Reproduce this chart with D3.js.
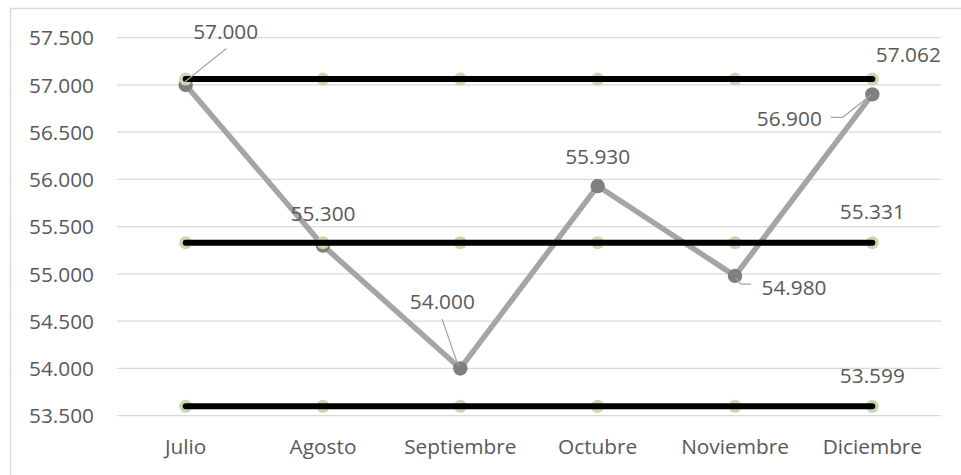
<!DOCTYPE html>
<html>
<head>
<meta charset="utf-8">
<script src="https://cdn.jsdelivr.net/npm/d3@7"></script>
<style>
  body { margin: 0; background: #fff; }
  text { font-family: "Open Sans", "Noto Sans", sans-serif; fill: #595959; }
</style>
</head>
<body>
<div id="chart"></div>
<script>
// datos
var meses = ["Julio", "Agosto", "Septiembre", "Octubre", "Noviembre", "Diciembre"];
var valores = [57.000, 55.300, 54.000, 55.930, 54.980, 56.900];
var lsc = [57.062, 57.062, 57.062, 57.062, 57.062, 57.062];
var media = [55.331, 55.331, 55.331, 55.331, 55.331, 55.331];
var lic = [53.599, 53.599, 53.599, 53.599, 53.599, 53.599];
var yTicks = [53.5, 54, 54.5, 55, 55.5, 56, 56.5, 57, 57.5];

// desplazamiento de las etiquetas (px)
var labelOffset = [[40, -53], [0, -32], [-18, -67], [0, -29], [59, 12], [-83, 24]];
var leaders = [
    [[40.7, -36.4], [-1, -3]],
    null,
    [[-18.3, -49.5], [-2, -2.5]],
    null,
    [[1, 2], [6, 8.2], [16, 8.2]],
    [[-41.3, 22.9], [-29.7, 22.9], [-1.3, 0.6]]
];

var width = 961;
var height = 475;
var padding = {top: 37.7, right: 20, left: 117, bottom: 59.3};
var fontSize = "20.8px";

var fmt = function (d) { return d3.format(".3f")(d); };

var svg = d3.select("#chart").append("svg").attr("width", width).attr("height", height);

// borde
svg.append("rect")
    .attr("x", 10.5).attr("y", 8.5)
    .attr("width", width).attr("height", height)
    .attr("fill", "none").attr("stroke", "#d9d9d9").attr("stroke-width", 1.5);

var x = d3.scaleBand().domain(meses).range([padding.left, 941]);
var y = d3.scaleLinear().domain([53.5, 57.5]).range([height - padding.bottom, padding.top]);
var cx = function (d, i) { return x(meses[i]) + x.bandwidth() / 2; };

// rejilla
svg.append("g").selectAll("line")
    .data(yTicks).enter().append("line")
    .attr("x1", padding.left).attr("x2", 941)
    .attr("y1", function (d) { return y(d); }).attr("y2", function (d) { return y(d); })
    .attr("stroke", "#d9d9d9").attr("stroke-width", 1.2);

// eje y
var yAxis = svg.append("g")
    .attr("transform", "translate(" + (padding.left - 23) + ",0)")
    .call(d3.axisLeft(y).tickValues(yTicks).tickSize(0).tickPadding(0).tickFormat(fmt));
yAxis.select(".domain").remove();
yAxis.selectAll("text").attr("font-size", fontSize).attr("dy", "0.35em")
    .style("font-family", "'Open Sans', sans-serif").attr("fill", "#595959");

// eje x
var xAxis = svg.append("g")
    .attr("transform", "translate(0," + (height - padding.bottom) + ")")
    .call(d3.axisBottom(x).tickSize(0).tickPadding(31));
xAxis.select(".domain").remove();
xAxis.selectAll("text").attr("font-size", fontSize).attr("dy", "0.35em")
    .style("font-family", "'Open Sans', sans-serif").attr("fill", "#595959");

var line = d3.line().x(cx).y(function (d) { return y(d); });

// serie de datos
svg.append("path").datum(valores)
    .attr("d", line).attr("fill", "none")
    .attr("stroke", "#a5a5a5").attr("stroke-width", 5.5)
    .attr("stroke-linejoin", "round");
svg.append("g").selectAll("circle")
    .data(valores).enter().append("circle")
    .attr("cx", cx).attr("cy", function (d) { return y(d); })
    .attr("r", 7.2).attr("fill", "#7f7f7f");

// limites
[lsc, media, lic].forEach(function (serie) {
    svg.append("g").selectAll("circle")
        .data(serie).enter().append("circle")
        .attr("cx", cx).attr("cy", function (d) { return y(d); })
        .attr("r", 6.5).attr("fill", "#c8daad");
    svg.append("path").datum(serie)
        .attr("d", line).attr("fill", "none")
        .attr("stroke", "#000").attr("stroke-width", 6)
        .attr("stroke-linecap", "round");
    var last = serie.length - 1;
    var off = serie === lsc ? [36, -24] : [0, -31];
    svg.append("text")
        .attr("x", cx(serie[last], last) + off[0])
        .attr("y", y(serie[last]) + off[1])
        .attr("dy", "0.35em").attr("text-anchor", "middle")
        .attr("font-size", fontSize)
        .text(fmt(serie[last]));
});

// lineas guia
leaders.forEach(function (pts, i) {
    if (!pts) return;
    var px = cx(valores[i], i), py = y(valores[i]);
    svg.append("polyline")
        .attr("points", pts.map(function (p) { return (px + p[0]) + "," + (py + p[1]); }).join(" "))
        .attr("fill", "none").attr("stroke", "#a6a6a6").attr("stroke-width", 1.2);
});

// etiquetas de datos
svg.append("g").selectAll("text")
    .data(valores).enter().append("text")
    .attr("x", function (d, i) { return cx(d, i) + labelOffset[i][0]; })
    .attr("y", function (d, i) { return y(d) + labelOffset[i][1]; })
    .attr("dy", "0.35em").attr("text-anchor", "middle")
    .attr("font-size", fontSize)
    .text(fmt);
</script>
</body>
</html>
